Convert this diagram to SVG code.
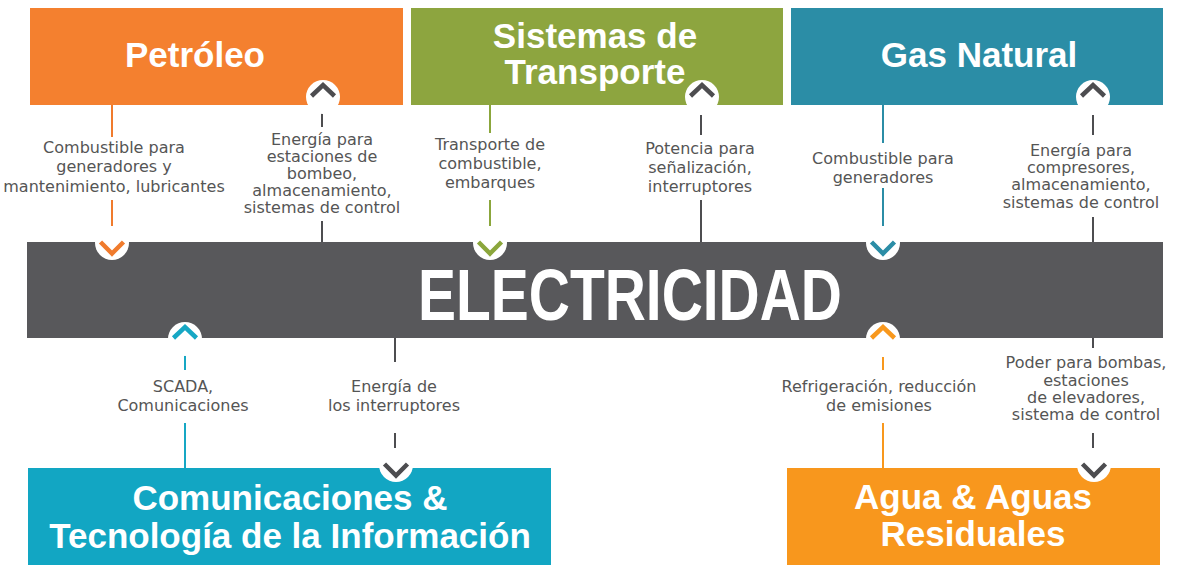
<svg xmlns="http://www.w3.org/2000/svg" width="1178" height="565" viewBox="0 0 1178 565">
<style>
.title{font-family:"Liberation Sans",Arial,sans-serif;font-weight:bold;fill:#fff;text-anchor:middle;font-size:35px}
.big{font-family:"Liberation Sans",Arial,sans-serif;font-weight:bold;fill:#fff;font-size:72px}
.lbl{font-family:"DejaVu Sans",sans-serif;font-size:16px;fill:#555;text-anchor:middle}
.ln{stroke-width:2;fill:none}
.chev{fill:none;stroke-width:4.5;stroke-linecap:butt;stroke-linejoin:miter}
.dot{fill:#fff;stroke:none}
.dk{stroke:#4d4d50}
.or{stroke:#f07b2d}
.gr{stroke:#8ba63c}
.tl{stroke:#2b8da6}
.cy{stroke:#16a7c4}
.ye{stroke:#f8981d}
</style>
<defs>
<g id="up"><circle class="dot" r="17"/><path class="chev" d="M-11.5,-1 L0,-12 L11.5,-1"/></g>
<g id="dn"><circle class="dot" r="17"/><path class="chev" d="M-11.5,-1 L0,10.5 L11.5,-1"/></g>
</defs>
<rect width="1178" height="565" fill="#fff"/>
<g id="petroleo">
<rect x="30" y="8" width="373" height="97" fill="#f4802f"/>
<text class="title" x="195" y="67" font-size="34">Petróleo</text>
</g>
<g id="transporte">
<rect x="411" y="8" width="372" height="97" fill="#8da53f"/>
<text class="title" x="595" y="48" font-size="34">Sistemas de</text>
<text class="title" x="595" y="84" font-size="34">Transporte</text>
</g>
<g id="gas">
<rect x="791" y="8" width="372" height="97" fill="#2b8da6"/>
<text class="title" x="979" y="67">Gas Natural</text>
</g>
<g id="electricidad">
<rect x="27" y="242" width="1136" height="96" fill="#58585b"/>
<text class="big" x="418" y="320" textLength="424" lengthAdjust="spacingAndGlyphs">ELECTRICIDAD</text>
</g>
<g id="comunicaciones">
<rect x="28" y="468" width="523" height="97" fill="#12a6c3"/>
<text class="title" x="290" y="510">Comunicaciones &amp;</text>
<text class="title" x="290" y="548">Tecnología de la Información</text>
</g>
<g id="agua">
<rect x="787" y="468" width="373" height="97" fill="#f8971d"/>
<text class="title" x="973" y="509">Agua &amp; Aguas</text>
<text class="title" x="973" y="546">Residuales</text>
</g>
<g id="connectors">
<path class="ln or" d="M112,105V137M112,200V226"/>
<path class="ln dk" d="M322,113V127M322,221V242"/>
<path class="ln gr" d="M490,105V133M490,200V226"/>
<path class="ln dk" d="M701,115V135M701,200V242"/>
<path class="ln tl" d="M883,105V143M883,188V226"/>
<path class="ln dk" d="M1093,115V135M1093,217V242"/>
<path class="ln cy" d="M185,355V370M185,423V468"/>
<path class="ln dk" d="M395,338V362M395,433V448"/>
<path class="ln ye" d="M883,357V370M883,423V468"/>
<path class="ln dk" d="M1093,338V348M1093,433V448"/>
<use href="#up" x="323" y="97" class="dk"/>
<use href="#up" x="702" y="97" class="dk"/>
<use href="#up" x="1093" y="97" class="dk"/>
<use href="#dn" x="112" y="243" class="or"/>
<use href="#dn" x="490" y="243" class="gr"/>
<use href="#dn" x="883" y="243" class="tl"/>
<use href="#up" x="185" y="339" class="cy"/>
<use href="#up" x="883" y="339" class="ye"/>
<use href="#dn" x="396" y="465" class="dk"/>
<use href="#dn" x="1094" y="465" class="dk"/>
</g>
<g id="labels">
<text class="lbl" x="114" y="153">Combustible para</text>
<text class="lbl" x="114" y="172">generadores y</text>
<text class="lbl" x="114" y="192">mantenimiento, lubricantes</text>
<text class="lbl" x="322" y="145">Energía para</text>
<text class="lbl" x="322" y="162">estaciones de</text>
<text class="lbl" x="322" y="179">bombeo,</text>
<text class="lbl" x="322" y="196">almacenamiento,</text>
<text class="lbl" x="322" y="213">sistemas de control</text>
<text class="lbl" x="490" y="150">Transporte de</text>
<text class="lbl" x="490" y="169">combustible,</text>
<text class="lbl" x="490" y="188">embarques</text>
<text class="lbl" x="700" y="154">Potencia para</text>
<text class="lbl" x="700" y="173">señalización,</text>
<text class="lbl" x="700" y="192">interruptores</text>
<text class="lbl" x="883" y="164">Combustible para</text>
<text class="lbl" x="883" y="183">generadores</text>
<text class="lbl" x="1081" y="156">Energía para</text>
<text class="lbl" x="1081" y="173">compresores,</text>
<text class="lbl" x="1081" y="190">almacenamiento,</text>
<text class="lbl" x="1081" y="208">sistemas de control</text>
<text class="lbl" x="183" y="392">SCADA,</text>
<text class="lbl" x="183" y="411">Comunicaciones</text>
<text class="lbl" x="394" y="392">Energía de</text>
<text class="lbl" x="394" y="411">los interruptores</text>
<text class="lbl" x="879" y="392">Refrigeración, reducción</text>
<text class="lbl" x="879" y="411">de emisiones</text>
<text class="lbl" x="1086" y="368">Poder para bombas,</text>
<text class="lbl" x="1086" y="386">estaciones</text>
<text class="lbl" x="1086" y="403">de elevadores,</text>
<text class="lbl" x="1086" y="420">sistema de control</text>
</g>
</svg>
